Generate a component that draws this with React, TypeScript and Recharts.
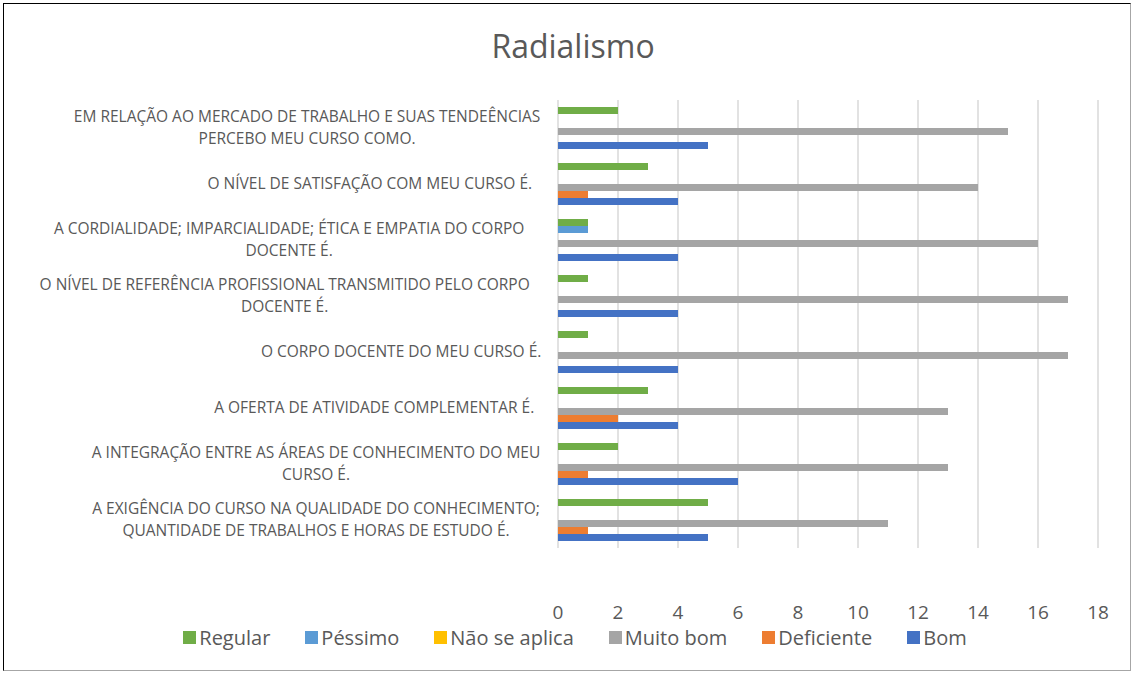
import React from 'react';
import { BarChart, Bar, XAxis, YAxis, CartesianGrid } from 'recharts';

const categories = [
  ['EM RELAÇÃO AO MERCADO DE TRABALHO E SUAS TENDEÊNCIAS', 'PERCEBO MEU CURSO COMO.'],
  ['O NÍVEL DE SATISFAÇÃO COM MEU CURSO É.'],
  ['A CORDIALIDADE; IMPARCIALIDADE; ÉTICA E EMPATIA DO CORPO', 'DOCENTE É.'],
  ['O NÍVEL DE REFERÊNCIA PROFISSIONAL TRANSMITIDO PELO CORPO', 'DOCENTE É.'],
  ['O CORPO DOCENTE DO MEU CURSO É.'],
  ['A OFERTA DE ATIVIDADE COMPLEMENTAR É.'],
  ['A INTEGRAÇÃO ENTRE AS ÁREAS DE CONHECIMENTO DO MEU', 'CURSO É.'],
  ['A EXIGÊNCIA DO CURSO NA QUALIDADE DO CONHECIMENTO;', 'QUANTIDADE DE TRABALHOS E HORAS DE ESTUDO É.'],
];

const regular = [2, 3, 1, 1, 1, 3, 2, 5];
const pessimo = [0, 0, 1, 0, 0, 0, 0, 0];
const naoSeAplica = [0, 0, 0, 0, 0, 0, 0, 0];
const muitoBom = [15, 14, 16, 17, 17, 13, 13, 11];
const deficiente = [0, 1, 0, 0, 0, 2, 1, 1];
const bom = [5, 4, 4, 4, 4, 4, 6, 5];

const xTicks = [0, 2, 4, 6, 8, 10, 12, 14, 16, 18];

const series = [
  { key: 'regular', name: 'Regular', color: '#70AD47' },
  { key: 'pessimo', name: 'Péssimo', color: '#5B9BD5' },
  { key: 'naoSeAplica', name: 'Não se aplica', color: '#FFC000' },
  { key: 'muitoBom', name: 'Muito bom', color: '#A5A5A5' },
  { key: 'deficiente', name: 'Deficiente', color: '#ED7D31' },
  { key: 'bom', name: 'Bom', color: '#4472C4' },
];

const data = categories.map((lines, i) => ({
  id: String(i),
  lines,
  regular: regular[i],
  pessimo: pessimo[i],
  naoSeAplica: naoSeAplica[i],
  muitoBom: muitoBom[i],
  deficiente: deficiente[i],
  bom: bom[i],
}));

const FONT = '"Open Sans", sans-serif';
const TEXT = '#595959';
const LABEL_SIZE = 15.5;

// multi-line labels: lines centred on each other, block right-aligned next to the plot
const CategoryTick = (props: any) => {
  const { x, y, payload } = props;
  const lines: string[] = data[Number(payload.value)].lines;
  const maxLen = Math.max(...lines.map((l) => l.length));
  const cx = x - 10 - (maxLen * LABEL_SIZE * 0.578) / 2;
  const lh = 22;
  const start = y - ((lines.length - 1) * lh) / 2;
  return (
    <g>
      {lines.map((l, i) => (
        <text key={i} x={cx} y={start + i * lh} dy="0.35em" textAnchor="middle"
          fontFamily={FONT} fontSize={LABEL_SIZE} fill={TEXT}>
          {l}
        </text>
      ))}
    </g>
  );
};

const Legend = () => (
  <div style={{ position: 'absolute', top: 624, left: 0, width: 1150, display: 'flex', justifyContent: 'center', gap: 35, fontFamily: FONT, fontSize: 20, color: TEXT }}>
    {series.map((s) => (
      <div key={s.key} style={{ display: 'flex', alignItems: 'center' }}>
        <span style={{ width: 13, height: 13, background: s.color, display: 'inline-block', marginRight: 3 }} />
        <span>{s.name}</span>
      </div>
    ))}
  </div>
);

export default function App() {
  return (
    <div style={{ position: 'absolute', left: 0, top: 0, width: 1133, height: 675, background: '#fff' }}>
      <div style={{ position: 'absolute', left: 3, top: 3, width: 1126, height: 666, border: '1px solid #000', borderBottomColor: '#a6a6a6', borderRightColor: '#a6a6a6' }} />
      <div style={{ position: 'absolute', top: 24, left: 0, width: 1146, textAlign: 'center', fontFamily: FONT, fontSize: 32, color: TEXT }}>
        Radialismo
      </div>
      <div style={{ position: 'absolute', left: 0, top: 0 }}>
        <BarChart width={1133} height={675} data={data} layout="vertical"
          margin={{ top: 100, right: 35, left: 5, bottom: 97 }}
          barCategoryGap={7} barGap={0}>
          <CartesianGrid horizontal={false} stroke="#d9d9d9" strokeWidth={1.5} />
          <XAxis type="number" domain={[0, 18]} ticks={xTicks} axisLine={false} tickLine={false}
            tickMargin={52} tick={{ fontFamily: FONT, fontSize: 19, fill: TEXT }} />
          <YAxis type="category" dataKey="id" width={553} axisLine={false} tickLine={false}
            tick={<CategoryTick />} interval={0} />
          {series.map((s) => (
            <Bar key={s.key} dataKey={s.key} name={s.name} fill={s.color} isAnimationActive={false} />
          ))}
        </BarChart>
      </div>
      <Legend />
    </div>
  );
}
